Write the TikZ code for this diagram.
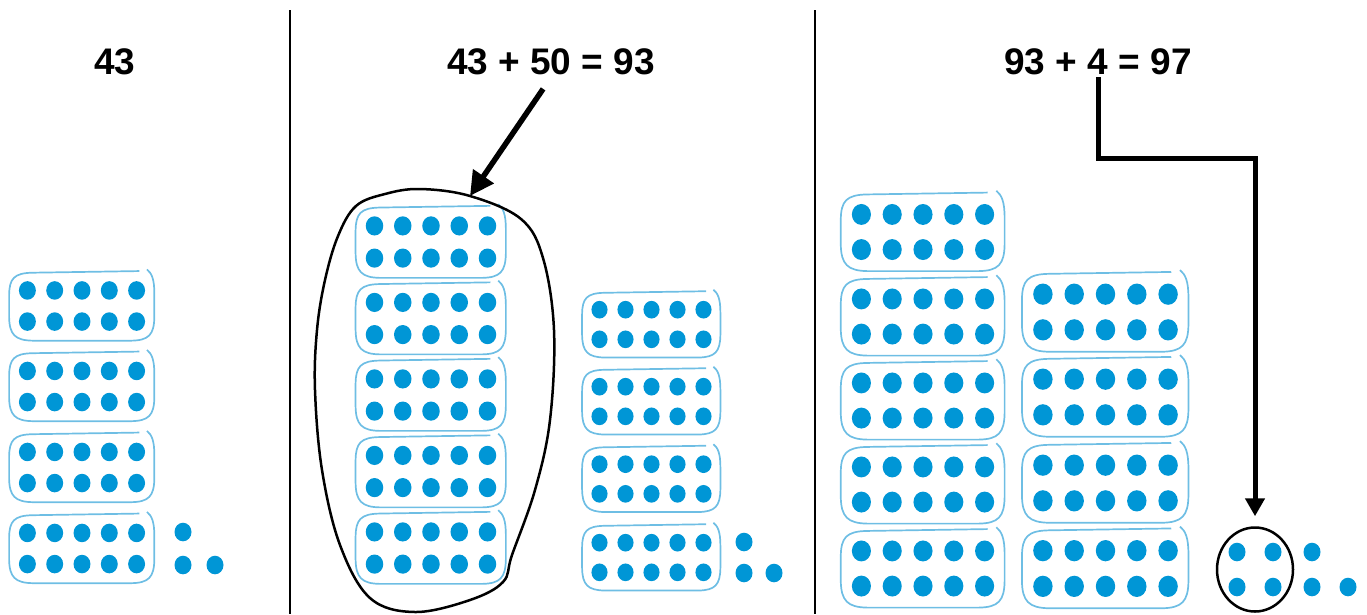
\documentclass[tikz,border=0pt]{standalone}
\usepackage{fontspec}
\setmainfont{Liberation Sans}
\usepackage{xcolor}
\usetikzlibrary{arrows.meta, shapes.geometric, calc}

\definecolor{dotblue}{RGB}{0,150,214}
\definecolor{frameblue}{RGB}{110,190,228}

% ten-frame: name, centre x, centre y, dot spacing
\newcommand{\tenframe}[4]{%
  \coordinate (#1) at (#2,#3);
  \begin{scope}[shift={(#1)}, x=#4pt, y=-#4pt]
    \draw[framepen] (2.1,-1.28) -- (-1.8,-1.22) .. controls (-2.5,-1.21) and (-2.66,-1.0) .. (-2.67,-0.4) -- (-2.67,0.4) .. controls (-2.66,1.05) and (-2.45,1.26) .. (-1.8,1.27) -- (1.8,1.27) .. controls (2.45,1.26) and (2.64,1.05) .. (2.65,0.4) -- (2.65,-0.45) .. controls (2.65,-1.0) and (2.55,-1.2) .. (2.38,-1.34);
    \foreach \i in {-2,...,2} {
      \fill[counter] (\i,-0.57) ellipse [x radius=0.31, y radius=0.34];
      \fill[counter] (\i,0.57) ellipse [x radius=0.31, y radius=0.34];
    }
  \end{scope}}
\newcommand{\onedot}[2]{\fill[counter] (#1,#2) ellipse [x radius=8.5, y radius=9.3];}

\begin{document}
\begin{tikzpicture}[
    x=1pt, y=-1pt,
    framepen/.style={draw=frameblue, line width=1.7pt},
    counter/.style={fill=dotblue},
    title/.style={font=\fontsize{37}{44}\selectfont\bfseries, inner sep=2pt},
    divider/.style={line width=2.5pt},
    bigarrow/.style={line width=5.5pt, -{Triangle[length=24pt, width=24pt]}},
    elbowarrow/.style={line width=5pt, -{Triangle[length=18pt, width=19pt]}}
]
\useasboundingbox (0,0) rectangle (1367,614);

% --- Panel dividers ---
\draw[divider] (290,10) -- (290,614);
\draw[divider] (815,10) -- (815,614);

% --- Titles ---
\node[title] (tone) at (115,62) {43};
\node[title] (ttwo) at (551,62) {43 + 50 = 93};
\node[title] (tthree) at (1098,62) {93 + 4 = 97};

% --- Panel 1: 43 ---
\foreach \y [count=\k] in {306,386.5,467.5,548.5}
  {\tenframe{pa\k}{82}{\y}{27.3}}
\onedot{183}{532}
\onedot{183}{565}
\onedot{215}{565}

% --- Panel 2: 43 + 50 ---
\foreach \y [count=\k] in {242,318.5,395,471.5,548}
  {\tenframe{pb\k}{431}{\y}{28.25}}
\foreach \y [count=\k] in {324.5,401.5,479,557.5}
  {\tenframe{pc\k}{651.5}{\y}{26}}
\onedot{744}{542}
\onedot{744}{573}
\onedot{774}{573}

% loop round the fifty
\draw[line width=2.5pt] plot[smooth cycle, tension=0.6] coordinates {(420,189) (470,196) (521,219) (543,258) (554,330) (550,420) (535,490) (512,555) (503,582) (470,600) (415,612) (370,598) (340,545) (322,470) (315,390) (317,330) (325,280) (338,236) (356,206) (385,194)};
\coordinate (blobtop) at (470,196);
\draw[bigarrow, shorten <=14pt] (ttwo.south) -- (blobtop);

% --- Panel 3: 93 + 4 ---
\foreach \y [count=\k] in {232,316.5,400.5,484.5,568.5}
  {\tenframe{pd\k}{923}{\y}{30.8}}
\foreach \y [count=\k] in {312,397,483,568.5}
  {\tenframe{pe\k}{1105.5}{\y}{31.3}}

\node[draw, ellipse, line width=2.5pt, minimum width=76pt, minimum height=84pt, inner sep=0pt] (fourset) at (1255,569.5) {};
\onedot{1237}{552}
\onedot{1273}{552}
\onedot{1237}{587}
\onedot{1273}{587}
\onedot{1312}{552}
\onedot{1312}{587}
\onedot{1348}{587}

\draw[elbowarrow, shorten >=10pt] (tthree.south) -- ++(0,81) -| (fourset.north);

\end{tikzpicture}
\end{document}
